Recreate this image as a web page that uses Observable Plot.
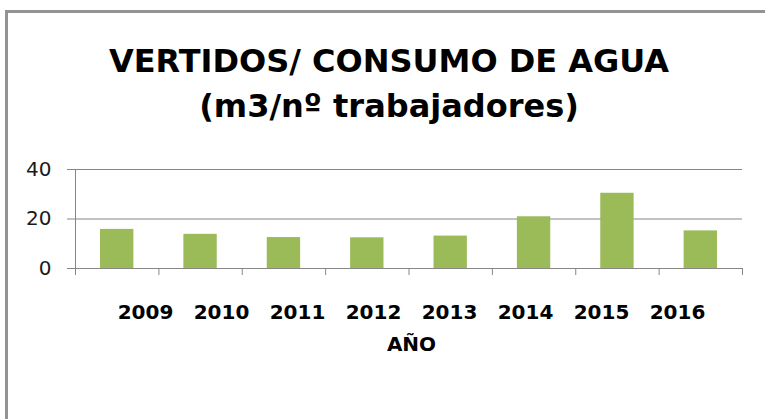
<!DOCTYPE html>
<html>
<head>
<meta charset="utf-8">
<script src="https://cdn.jsdelivr.net/npm/d3@7"></script>
<script src="https://cdn.jsdelivr.net/npm/@observablehq/plot@0.6"></script>
<style>
  html, body { margin: 0; padding: 0; background: #fff; }
  #wrap { position: relative; width: 765px; height: 419px; overflow: hidden; background: #fff; }
  #box { position: absolute; left: 5px; top: 10px; width: 800px; height: 500px;
         border-left: 3px solid #939393; border-top: 3px solid #939393; box-sizing: border-box; }
  #title { position: absolute; left: 0; top: 39px; width: 778px; text-align: center;
           font-family: "DejaVu Sans", sans-serif; font-weight: bold; font-size: 32px;
           line-height: 45px; color: #000; }
  #main, #labels { position: absolute; left: 0; }
  #main { top: 0; }
  #labels { top: 268px; }
  #main [aria-label*="axis"] line, #main [aria-label*="axis"] path { stroke: #868686; }
</style>
</head>
<body>
<div id="wrap">
  <div id="box"></div>
  <div id="title">VERTIDOS/ CONSUMO DE AGUA<br>(m3/nº trabajadores)</div>
  <div id="main"></div>
  <div id="labels"></div>
</div>
<script>
const years = ["2009", "2010", "2011", "2012", "2013", "2014", "2015", "2016"];
const values = [15.8, 13.8, 12.5, 12.4, 13.1, 20.9, 30.4, 15.2];
const yTicks = [0, 20, 40];
const xAxisTitle = "AÑO";

const data = years.map((year, i) => ({i, year, value: values[i]}));
const boundaries = d3.range(years.length + 1);

const main = Plot.plot({
  width: 765,
  height: 300,
  marginLeft: 75,
  marginRight: 23,
  marginTop: 169,
  marginBottom: 32,
  style: {fontFamily: "DejaVu Sans, sans-serif", fontSize: "20px", color: "#1a1a1a", background: "transparent", overflow: "visible"},
  x: {type: "linear", domain: [0, years.length], ticks: boundaries, tickFormat: () => "", tickSize: 7, label: null},
  y: {domain: [0, 40], ticks: yTicks, tickSize: 8, tickPadding: 16, label: null},
  marks: [
    Plot.ruleY(yTicks, {stroke: "#868686", strokeWidth: 1}),
    Plot.ruleX([0], {stroke: "#868686", strokeWidth: 1}),
    Plot.rectY(data, {x1: "i", x2: d => d.i + 1, y: "value", insetLeft: 25, insetRight: 25, fill: "#9bbb59"})
  ]
});
document.getElementById("main").appendChild(main);

const labels = Plot.plot({
  width: 765,
  height: 100,
  marginLeft: 75,
  marginRight: 18,
  marginTop: 20,
  marginBottom: 80,
  style: {fontFamily: "DejaVu Sans, sans-serif", fontSize: "20px", fontWeight: "bold", color: "#000", background: "transparent", overflow: "visible"},
  x: {type: "point", domain: years, range: [143, 678.5], padding: 0, tickSize: 0, tickPadding: 16, label: xAxisTitle, labelAnchor: "center", labelOffset: 62},
  marks: []
});
document.getElementById("labels").appendChild(labels);
</script>
</body>
</html>
